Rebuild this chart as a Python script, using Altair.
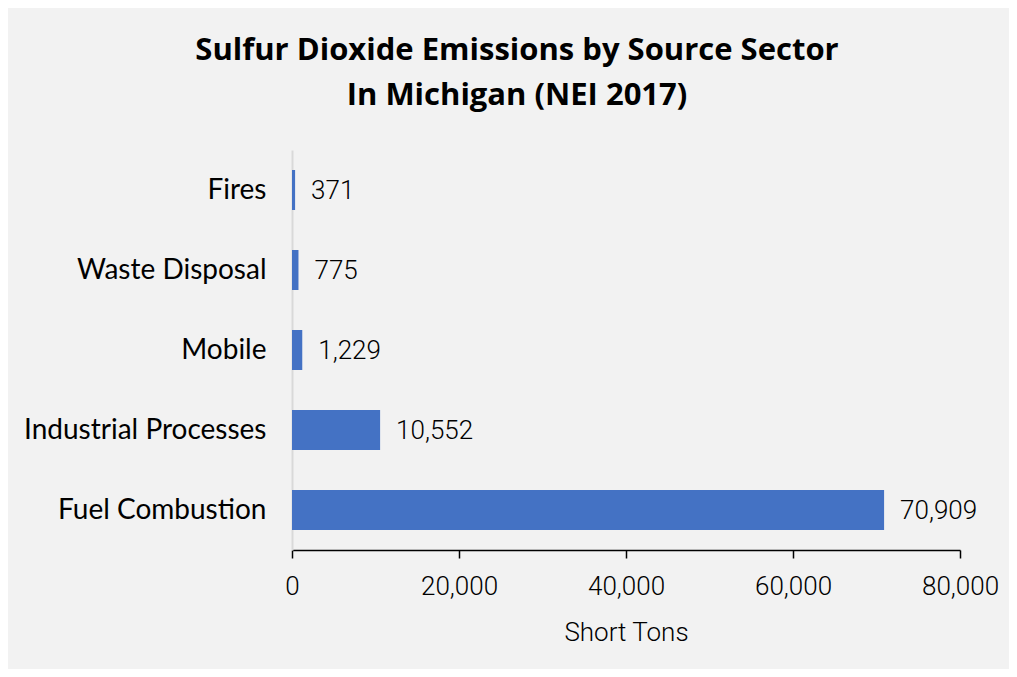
import altair as alt
import pandas as pd

sectors = ["Fires", "Waste Disposal", "Mobile", "Industrial Processes", "Fuel Combustion"]
emissions = [371, 775, 1229, 10552, 70909]
x_ticks = [0, 20000, 40000, 60000, 80000]

df = pd.DataFrame({"sector": sectors, "tons": emissions})

num_font = "Roboto"
cat_font = "Lato"

y_enc = alt.Y(
    "sector:N",
    sort=sectors,
    title=None,
    scale=alt.Scale(paddingInner=0.5, paddingOuter=0.25),
    axis=alt.Axis(
        domainColor="#d9d9d9",
        domainWidth=2,
        ticks=False,
        labelFont=cat_font,
        labelFontSize=28,
        labelColor="#000000",
        labelPadding=26,
        labelLimit=400,
        labelOffset=1,
    ),
)

x_enc = alt.X(
    "tons:Q",
    title="Short Tons",
    scale=alt.Scale(domain=[0, 80000], nice=False),
    axis=alt.Axis(
        values=x_ticks,
        format=",.0f",
        grid=False,
        labelFlush=False,
        domainColor="#000000",
        domainWidth=1.5,
        tickColor="#000000",
        tickWidth=1.5,
        tickSize=8,
        labelFont=num_font,
        labelFontSize=26,
        labelFontWeight=300,
        labelColor="#000000",
        labelPadding=15,
        titleFont=num_font,
        titleFontSize=26,
        titleFontWeight=300,
        titleColor="#000000",
        titlePadding=20,
    ),
)

bars = alt.Chart(df).mark_bar(color="#4472C4").encode(x=x_enc, y=y_enc)

labels = alt.Chart(df).mark_text(
    align="left", baseline="middle", dx=16, dy=1, font=num_font, fontSize=26,
    fontWeight=300, color="#000000"
).encode(
    x=alt.X("tons:Q"),
    y=alt.Y("sector:N", sort=sectors),
    text=alt.Text("tons:Q", format=",.0f"),
)

chart = (
    (bars + labels)
    .properties(
        width=668,
        height=400,
        background="#f2f2f2",
        autosize=alt.AutoSizeParams(type="none"),
        padding={"left": 284, "top": 142, "right": 49, "bottom": 119},
        title=alt.TitleParams(
            text=["Sulfur Dioxide Emissions by Source Sector", "In Michigan (NEI 2017)"],
            font="Open Sans",
            fontSize=31,
            fontWeight="bold",
            color="#000000",
            anchor="middle",
            dx=-109,
            offset=38,
            lineHeight=45,
        ),
    )
    .configure_view(stroke=None)
)

chart.save("out.html", embed_options={"renderer": "svg", "actions": False})
